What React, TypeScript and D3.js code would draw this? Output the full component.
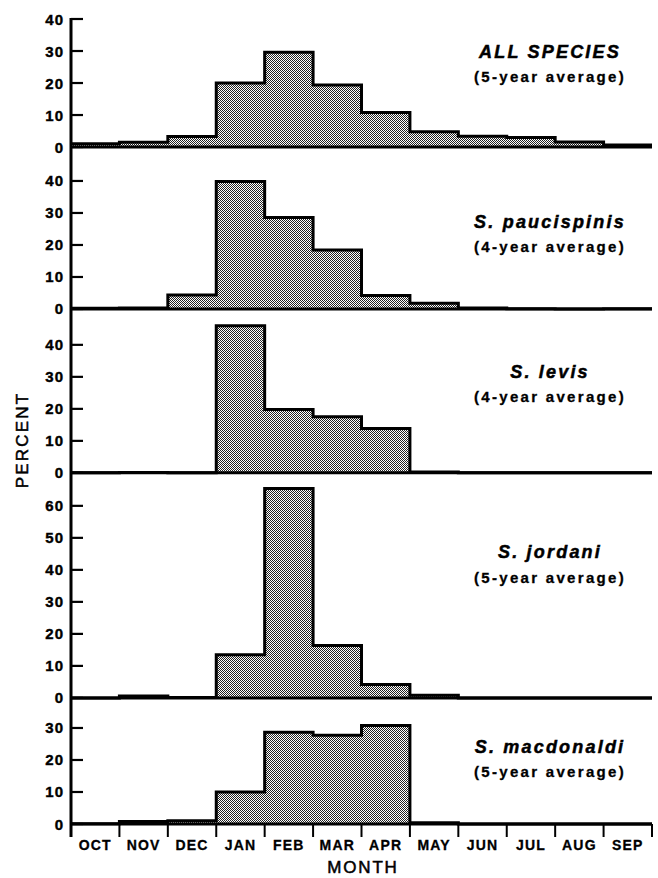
import React from "react";
import * as d3 from "d3";

const months = ["OCT", "NOV", "DEC", "JAN", "FEB", "MAR", "APR", "MAY", "JUN", "JUL", "AUG", "SEP"];
const allSpecies = [1, 1.5, 3.3, 20, 29.6, 19.4, 10.8, 4.8, 3.4, 3, 1.6, 0.6];
const paucispinis = [0.2, 0.3, 4.4, 39.8, 28.6, 18.4, 4.2, 1.8, 0.3, 0.1, 0, 0.1];
const levis = [0, 0.1, 0, 46, 19.8, 17.5, 13.9, 0.3, 0, 0, 0, 0];
const jordani = [0, 0.6, 0.1, 13.5, 65.4, 16.4, 4.2, 0.8, 0, 0, 0, 0];
const macdonaldi = [0.1, 0.8, 1, 10, 28.7, 27.7, 30.8, 0.4, 0, 0, 0, 0];
const seriesList = [allSpecies, paucispinis, levis, jordani, macdonaldi];
const titles = ["ALL SPECIES", "S. paucispinis", "S. levis", "S. jordani", "S. macdonaldi"];
const subtitles = ["(5-year average)", "(4-year average)", "(4-year average)", "(5-year average)", "(5-year average)"];
const yMax = [40, 50.6, 51.2, 70.3, 39.4];
const yTicks = [
  [0, 10, 20, 30, 40],
  [0, 10, 20, 30, 40],
  [0, 10, 20, 30, 40],
  [0, 10, 20, 30, 40, 50, 60],
  [0, 10, 20, 30],
];

// layout
const W = 658;
const H = 878;
const X0 = 71;
const X1 = 652;
const TOP = 19;
const BOTTOM = 824;
const titleOffsets = [89, 81, 95, 140, 71];
const subOffsets = [65, 57, 71, 115, 47];
const TITLE_X = 550;
const FONT = "'Liberation Sans', Arial, Helvetica, sans-serif";

export default function App() {
  const x = d3.scaleBand<string>().domain(months).range([X0, X1]).paddingInner(0).paddingOuter(0);
  const bw = x.bandwidth();
  const total = d3.sum(yMax);
  const k = (BOTTOM - TOP) / total;
  let cum = TOP;
  const panels = yMax.map((m, i) => {
    const top = cum;
    const base = cum + m * k;
    cum = base;
    const y = d3.scaleLinear().domain([0, m]).range([base, top]);
    return { y, base, top, i };
  });

  return (
    <svg width={W} height={H} style={{ position: "absolute", left: 0, top: 0, background: "#fff" }}>
      <defs>
        <pattern id="dots" width={2} height={2} patternUnits="userSpaceOnUse">
          <rect width={2} height={2} fill="#fff" />
          <rect x={0} y={0} width={1} height={1} fill="#222" />
          <rect x={1} y={1} width={1} height={1} fill="#222" />
        </pattern>
      </defs>
      <rect width={W} height={H} fill="#fff" />
      {panels.map(({ y, base, i }) => {
        const vals = seriesList[i];
        const pts: [number, number][] = vals.map((v, j) => [x(months[j]) as number, v]);
        pts.push([X1, vals[vals.length - 1]]);
        const area = d3
          .area<[number, number]>()
          .x((d) => d[0])
          .y0(base)
          .y1((d) => y(d[1]))
          .curve(d3.curveStepAfter);
        const line = d3
          .line<[number, number]>()
          .x((d) => d[0])
          .y((d) => y(d[1]))
          .curve(d3.curveStepAfter);
        return (
          <g key={i}>
            <path d={area(pts) || ""} fill="url(#dots)" />
            <path d={line(pts) || ""} fill="none" stroke="#000" strokeWidth={3} strokeLinejoin="miter" />
            <line x1={X0} x2={X1} y1={base} y2={base} stroke="#000" strokeWidth={3} />
            {yTicks[i].map((t) => (
              <g key={t}>
                <line x1={X0} x2={X0 + 12} y1={y(t)} y2={y(t)} stroke="#000" strokeWidth={2.2} />
                <text
                  x={64}
                  y={y(t) + 5.5}
                  textAnchor="end"
                  fontFamily={FONT}
                  fontWeight="bold"
                  fontSize={15}
                  letterSpacing={1}
                  stroke="#000"
                  strokeWidth={0.4}
                >
                  {t}
                </text>
              </g>
            ))}
            <text
              x={TITLE_X}
              y={base - titleOffsets[i]}
              textAnchor="middle"
              fontFamily={FONT}
              fontWeight="bold"
              fontStyle="italic"
              fontSize={18}
              letterSpacing={2.2}
              stroke="#000"
              strokeWidth={0.5}
            >
              {titles[i]}
            </text>
            <text
              x={TITLE_X}
              y={base - subOffsets[i]}
              textAnchor="middle"
              fontFamily={FONT}
              fontWeight="bold"
              fontSize={15}
              letterSpacing={2.3}
              stroke="#000"
              strokeWidth={0.3}
            >
              {subtitles[i]}
            </text>
          </g>
        );
      })}
      <line x1={X0} x2={X0} y1={TOP - 1} y2={BOTTOM + 13} stroke="#000" strokeWidth={3} />
      {d3.range(months.length + 1).map((j) => {
        const xx = j < months.length ? (x(months[j]) as number) : X1;
        return <line key={j} x1={xx} x2={xx} y1={BOTTOM} y2={BOTTOM + 13} stroke="#000" strokeWidth={2} />;
      })}
      {months.map((m) => (
        <text
          key={m}
          x={(x(m) as number) + bw / 2}
          y={850}
          textAnchor="middle"
          fontFamily={FONT}
          fontWeight="bold"
          fontSize={14}
          letterSpacing={1.2}
          stroke="#000"
          strokeWidth={0.3}
        >
          {m}
        </text>
      ))}
      <text
        x={363}
        y={873}
        textAnchor="middle"
        fontFamily={FONT}
        fontSize={17}
        letterSpacing={1.8}
        stroke="#000"
        strokeWidth={0.5}
      >
        MONTH
      </text>
      <text
        transform="translate(28,440) rotate(-90)"
        textAnchor="middle"
        fontFamily={FONT}
        fontSize={17}
        letterSpacing={2.2}
        stroke="#000"
        strokeWidth={0.5}
      >
        PERCENT
      </text>
    </svg>
  );
}
